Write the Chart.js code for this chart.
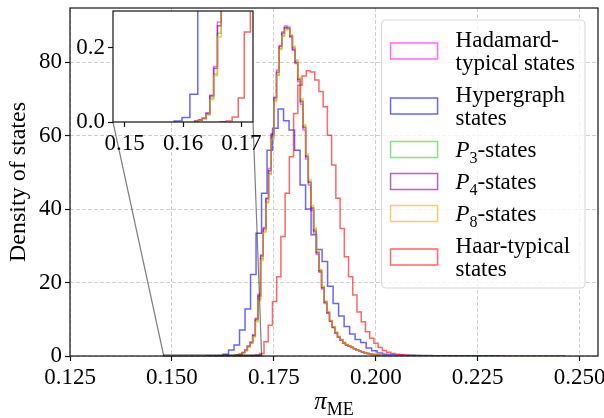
<!DOCTYPE html>
<html lang="en">
<head>
<meta charset="UTF-8">
<title>Density of states</title>
<script src="https://cdn.jsdelivr.net/npm/chart.js"></script>
<style>
  body { margin: 0; background: #fff; }
  #wrap { position: relative; width: 604px; height: 418px; }
  #mainChart { position: absolute; left: 0; top: 0; }
  #insetChart { position: absolute; left: 70px; top: 0; }
</style>
</head>
<body>
<div id="wrap">
  <canvas id="mainChart" width="604" height="418"></canvas>
  <canvas id="insetChart" width="200" height="165"></canvas>
</div>
<script>
// histograms (density): left edge of first bin, bin width, bar heights
const hadamardStart = 0.1620, hadamardWidth = 0.00065;
const hadamardHeights = [0.003, 0.006, 0.010, 0.025, 0.072, 0.15, 0.27, 0.48, 0.95, 1.6,
  2.7, 3.8, 5.8, 10.3, 16.8, 27.5, 35, 43, 51, 60.5,
  70.5, 77.8, 84.5, 88.2, 89.8, 89.5, 86.8, 83.2, 79.6, 74.6,
  68.5, 61.5, 53.6, 46.5, 39.6, 33.5, 27.6, 22.8, 18.2, 14.3,
  11.6, 9.4, 7.7, 6.2, 5.1, 4.3, 3.5, 3.0, 2.7, 2.3,
  1.95, 1.65, 1.35, 1.1, 0.88, 0.68, 0.54, 0.41, 0.31, 0.23,
  0.17, 0.13, 0.095, 0.07, 0.05, 0.035, 0.025, 0.015];

const hypergraphStart = 0.15848, hypergraphWidth = 0.00135;
const hypergraphHeights = [0.003, 0.012, 0.075, 0.5, 1.6, 3.0, 7.1, 12.8, 22.2, 33.4,
  44.3, 56, 62, 67.2, 64, 61.5, 56, 46.5, 40, 33,
  29, 25.7, 19, 14.3, 10.9, 8, 6, 4.5, 3.7, 2.2,
  1.4, 0.8, 0.5, 0.38, 0.3, 0.25, 0.21, 0.18, 0.15, 0.13,
  0.11, 0.1, 0.09, 0.08, 0.07, 0.065, 0.06, 0.055, 0.05, 0.045,
  0.04, 0.04, 0.035, 0.03, 0.03, 0.025, 0.02, 0.02, 0.02, 0.015,
  0.015, 0.01, 0.01, 0.01, 0.008];

const p3Start = 0.1620, p3Width = 0.00065;
const p3Heights = [0.002, 0.004, 0.009, 0.020, 0.065, 0.13, 0.24, 0.44, 0.88, 1.45,
  2.5, 3.5, 5.4, 9.6, 15.6, 26.5, 34.0, 42.0, 49.6, 59.4,
  69.6, 76.5, 83.6, 87.2, 89.2, 89.0, 87.2, 84.0, 80.3, 75.5,
  69.5, 62.5, 54.5, 47.5, 40.5, 34.4, 28.3, 23.3, 18.8, 14.8,
  12.0, 9.6, 7.9, 6.4, 5.3, 4.5, 3.7, 3.1, 2.8, 2.4,
  2.0, 1.7, 1.4, 1.15, 0.92, 0.71, 0.56, 0.43, 0.33, 0.25,
  0.18, 0.14, 0.10, 0.07, 0.05, 0.04, 0.03, 0.02];

const p4Start = 0.1620, p4Width = 0.00065;
const p4Heights = [0.002, 0.005, 0.010, 0.023, 0.07, 0.145, 0.26, 0.46, 0.92, 1.55,
  2.65, 3.7, 5.6, 10.0, 16.3, 27.2, 34.6, 42.8, 50.4, 60.2,
  70.2, 77.2, 84.2, 87.8, 89.4, 89.2, 87.0, 83.5, 79.9, 75.2,
  69.2, 62.2, 54.2, 47.2, 40.2, 34.0, 28.1, 23.1, 18.6, 14.6,
  11.8, 9.5, 7.8, 6.3, 5.2, 4.4, 3.6, 3.0, 2.75, 2.35,
  2.0, 1.7, 1.4, 1.12, 0.9, 0.7, 0.55, 0.42, 0.32, 0.24,
  0.18, 0.13, 0.1, 0.07, 0.05, 0.04, 0.03, 0.02];

const p8Start = 0.1620, p8Width = 0.00065;
const p8Heights = [0.001, 0.004, 0.008, 0.019, 0.06, 0.125, 0.23, 0.42, 0.85, 1.4,
  2.45, 3.4, 5.2, 9.3, 15.2, 26.0, 33.6, 41.6, 49.4, 59.0,
  69.2, 76.4, 83.4, 87.0, 88.8, 89.0, 87.4, 84.3, 80.6, 75.8,
  70.0, 63.0, 55.0, 48.0, 41.0, 34.8, 28.7, 23.6, 19.0, 15.0,
  12.1, 9.7, 8.0, 6.5, 5.3, 4.5, 3.7, 3.1, 2.8, 2.4,
  2.05, 1.72, 1.42, 1.16, 0.92, 0.72, 0.56, 0.43, 0.33, 0.25,
  0.18, 0.14, 0.1, 0.07, 0.05, 0.04, 0.03, 0.02];

const haarStart = 0.166355, haarWidth = 0.001037;
const haarHeights = [0.001, 0.003, 0.0135, 0.065, 0.243, 0.7, 3.9, 8.4, 14.8, 21.6,
  32.5, 44.3, 54.2, 66, 73.7, 76.2, 77.6, 77.3, 75.1, 72,
  67.8, 60.1, 52, 42.9, 34.7, 27, 21.6, 16.6, 12, 9.3,
  6.6, 4.8, 3.5, 2.3, 1.5, 1.0, 0.7, 0.45, 0.32, 0.24,
  0.19, 0.15, 0.12, 0.1, 0.09, 0.08, 0.07, 0.06, 0.05, 0.045,
  0.04, 0.035, 0.03, 0.025, 0.02, 0.02, 0.015, 0.012, 0.01, 0.008,
  0.006, 0.005, 0.004];

const seriesLabels = [
  ['Hadamard-', 'typical states'],
  ['Hypergraph', 'states'],
  ['P_3-states'],
  ['P_4-states'],
  ['P_8-states'],
  ['Haar-typical', 'states']
];
const seriesColors = ['rgba(255,0,255,0.6)', 'rgba(0,0,255,0.6)', 'rgba(50,205,50,0.6)',
  'rgba(128,0,128,0.6)', 'rgba(255,165,0,0.6)', 'rgba(255,0,0,0.6)'];
const seriesBins = [
  [hadamardStart, hadamardWidth, hadamardHeights],
  [hypergraphStart, hypergraphWidth, hypergraphHeights],
  [p3Start, p3Width, p3Heights],
  [p4Start, p4Width, p4Heights],
  [p8Start, p8Width, p8Heights],
  [haarStart, haarWidth, haarHeights]
];

const xTicks = [0.125, 0.150, 0.175, 0.200, 0.225, 0.250];
const yTicks = [0, 20, 40, 60, 80];
const xRange = [0.125, 0.2545];
const yRange = [0, 94.7];
const insetXTicks = [0.15, 0.16, 0.17];
const insetYTicks = [0.0, 0.2];
const insetXRange = [0.148, 0.172];
const insetYRange = [0, 0.3];

const FONT = "'Liberation Serif', 'Times New Roman', serif";
const gridColor = 'rgba(170,170,170,0.55)';

// outline of a step histogram, stepped 'before' = horizontal first
function histPoints(start, width, heights) {
  const pts = [{x: start, y: 0}];
  heights.forEach((h, i) => pts.push({x: start + i * width, y: h}));
  pts.push({x: start + heights.length * width, y: 0});
  return pts;
}

function makeDatasets() {
  return seriesLabels.map((lab, i) => ({
    label: lab.join(' '),
    data: histPoints(...seriesBins[i]),
    borderColor: seriesColors[i],
    borderWidth: 1.5,
    pointRadius: 0,
    stepped: 'before',
    fill: false,
    order: seriesLabels.length - i
  }));
}

// text with one "a_b" part: italic a, subscript b
function richRuns(text, size) {
  const m = text.match(/^(.*?)(\S)_([0-9A-Za-z]+)(.*)$/);
  if (!m) return [{t: text, font: size + 'px ' + FONT, dy: 0}];
  return [
    {t: m[1], font: size + 'px ' + FONT, dy: 0},
    {t: m[2], font: 'italic ' + size + 'px ' + FONT, dy: 0},
    {t: m[3], font: Math.round(size * 0.7) + 'px ' + FONT, dy: size * 0.25},
    {t: m[4], font: size + 'px ' + FONT, dy: 0}
  ];
}

function textWidth(ctx, text, size) {
  let w = 0;
  richRuns(text, size).forEach(r => { ctx.font = r.font; w += ctx.measureText(r.t).width; });
  return w;
}

function drawRich(ctx, text, x, y, size, align) {
  const runs = richRuns(text, size);
  let cx = align === 'center' ? x - textWidth(ctx, text, size) / 2 : x;
  ctx.textAlign = 'left';
  ctx.textBaseline = 'alphabetic';
  runs.forEach(r => {
    ctx.font = r.font;
    ctx.fillText(r.t, cx, y + r.dy);
    cx += ctx.measureText(r.t).width;
  });
}

const framePlugin = {
  id: 'frame',
  beforeDraw(chart) {
    if (!chart.options.plugins.frame.whiteBg) return;
    const a = chart.chartArea, ctx = chart.ctx;
    ctx.save();
    ctx.fillStyle = '#fff';
    ctx.fillRect(a.left, a.top, a.right - a.left, a.bottom - a.top);
    ctx.restore();
  },
  afterDatasetsDraw(chart) {
    const a = chart.chartArea, ctx = chart.ctx;
    ctx.save();
    ctx.strokeStyle = '#111';
    ctx.lineWidth = 1.2;
    ctx.strokeRect(a.left, a.top, a.right - a.left, a.bottom - a.top);
    ctx.restore();
  }
};

function tickScale(values, fmt, size, extra) {
  return Object.assign({
    type: 'linear',
    afterBuildTicks: s => { s.ticks = values.map(v => ({value: v})); },
    ticks: {
      callback: v => v.toFixed(fmt),
      font: {family: FONT, size: size},
      color: '#000',
      padding: 3,
      autoSkip: false,
      maxRotation: 0
    },
    border: {display: false, dash: [4, 2]}
  }, extra);
}

// fixed axis sizes, no extra padding for end labels
function fixHeight(h) {
  return s => { s.height = h; s.paddingLeft = 0; s.paddingRight = 0; };
}
function fixWidth(w) {
  return s => { s.width = w; s.paddingTop = 0; s.paddingBottom = 0; };
}

// ---------- inset ----------
const insetCanvas = document.getElementById('insetChart');
const insetChart = new Chart(insetCanvas.getContext('2d'), {
  type: 'line',
  data: {datasets: makeDatasets()},
  options: {
    responsive: false,
    animation: false,
    devicePixelRatio: 1,
    layout: {padding: {top: 11, right: 17, left: 0, bottom: 0}},
    plugins: {legend: {display: false}, tooltip: {enabled: false}, frame: {whiteBg: true}},
    scales: {
      x: tickScale(insetXTicks, 2, 23, {
        min: insetXRange[0], max: insetXRange[1],
        afterFit: fixHeight(43),
        grid: {drawOnChartArea: false, tickLength: 5, tickColor: '#111', tickWidth: 1.2}
      }),
      y: tickScale(insetYTicks, 1, 23, {
        min: insetYRange[0], max: insetYRange[1],
        afterFit: fixWidth(43),
        grid: {drawOnChartArea: false, tickLength: 5, tickColor: '#111', tickWidth: 1.2}
      })
    }
  },
  plugins: [framePlugin]
});

// ---------- main chart ----------
const connectorPlugin = {
  id: 'connectors',
  afterDatasetsDraw(chart) {
    const ctx = chart.ctx, xs = chart.scales.x, ys = chart.scales.y;
    const ia = insetChart.chartArea;
    const ox = insetCanvas.offsetLeft, oy = insetCanvas.offsetTop;
    const x0 = xs.getPixelForValue(insetXRange[0]), x1 = xs.getPixelForValue(insetXRange[1]);
    const y0 = ys.getPixelForValue(insetYRange[0]), y1 = ys.getPixelForValue(insetYRange[1]);
    ctx.save();
    ctx.strokeStyle = 'rgba(0,0,0,0.5)';
    ctx.lineWidth = 1.2;
    ctx.strokeRect(x0, y1, x1 - x0, y0 - y1);
    ctx.beginPath();
    ctx.moveTo(ox + ia.left, oy + ia.bottom); ctx.lineTo(x0, y0);
    ctx.moveTo(ox + ia.right, oy + ia.bottom); ctx.lineTo(x1, y0);
    ctx.stroke();
    ctx.restore();
  }
};

const labelsPlugin = {
  id: 'labels',
  afterDraw(chart) {
    const ctx = chart.ctx, a = chart.chartArea;
    ctx.save();
    ctx.fillStyle = '#000';
    // x axis title
    drawRich(ctx, 'π_ME', (a.left + a.right) / 2, 409, 25, 'center');

    // legend
    const size = 23, lineH = 23, gap = 9, pad = 8;
    const swW = 47, swH = 16, swGap = 18;
    let maxW = 0;
    seriesLabels.forEach(lines => lines.forEach(t => { maxW = Math.max(maxW, textWidth(ctx, t, size)); }));
    const boxW = pad + 1 + swW + swGap + maxW + pad + 2;
    let boxH = pad * 2;
    seriesLabels.forEach((lines, i) => { boxH += lines.length * lineH + (i ? gap : 0); });
    const bx = a.right - 13 - boxW, by = a.top + 12;
    ctx.fillStyle = 'rgba(255,255,255,0.8)';
    ctx.strokeStyle = 'rgba(204,204,204,0.8)';
    ctx.lineWidth = 1;
    ctx.beginPath();
    ctx.roundRect(bx, by, boxW, boxH, 4);
    ctx.fill();
    ctx.stroke();
    let y = by + pad;
    seriesLabels.forEach((lines, i) => {
      const h = lines.length * lineH;
      const cy = y + h / 2;
      ctx.strokeStyle = seriesColors[i];
      ctx.lineWidth = 1.5;
      ctx.strokeRect(bx + pad + 1, cy - swH / 2, swW, swH);
      ctx.fillStyle = '#000';
      lines.forEach((t, k) => {
        const ly = y + lineH * k + lineH / 2;
        drawRich(ctx, t, bx + pad + 1 + swW + swGap, ly + size * 0.32, size, 'left');
      });
      y += h + gap;
    });
    ctx.restore();
  }
};

const mainChart = new Chart(document.getElementById('mainChart').getContext('2d'), {
  type: 'line',
  data: {datasets: makeDatasets()},
  options: {
    responsive: false,
    animation: false,
    devicePixelRatio: 1,
    layout: {padding: {top: 8, right: 6, left: 0, bottom: 0}},
    plugins: {legend: {display: false}, tooltip: {enabled: false}, frame: {whiteBg: false}},
    scales: {
      x: tickScale(xTicks, 3, 23, {
        min: xRange[0], max: xRange[1],
        afterFit: fixHeight(62),
        grid: {color: gridColor, lineWidth: 1, tickLength: 5, tickColor: '#111', tickWidth: 1.2, tickBorderDash: []}
      }),
      y: tickScale(yTicks, 0, 23, {
        min: yRange[0], max: yRange[1],
        afterFit: fixWidth(70),
        title: {display: true, text: 'Density of states', color: '#000',
                font: {family: FONT, size: 24}, padding: {top: 4, bottom: 0}},
        grid: {color: gridColor, lineWidth: 1, tickLength: 5, tickColor: '#111', tickWidth: 1.2, tickBorderDash: []}
      })
    }
  },
  plugins: [connectorPlugin, framePlugin, labelsPlugin]
});
</script>
</body>
</html>
